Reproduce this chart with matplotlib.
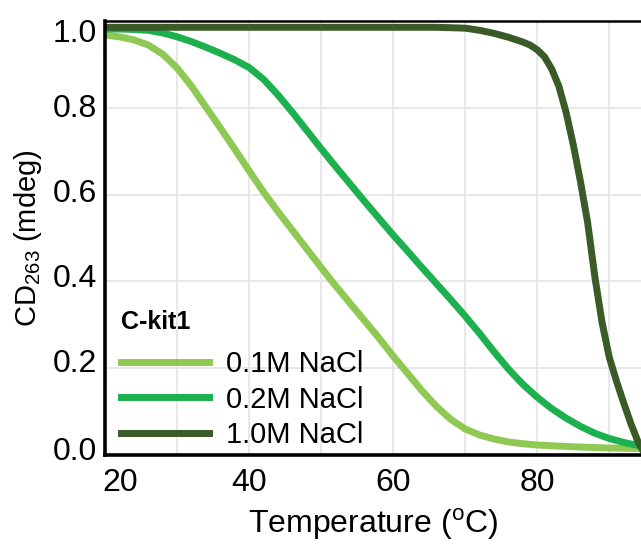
"""
CD melting curves of C-kit1 at three NaCl concentrations.
"""

import matplotlib
matplotlib.use("Agg")
from matplotlib import pyplot as plt
from matplotlib import transforms

plt.rcParams["font.family"] = ["Liberation Sans", "DejaVu Sans"]
plt.rcParams["mathtext.fontset"] = "custom"
plt.rcParams["mathtext.rm"] = "Liberation Sans"

# temperature (C) and normalised CD signal
t_01 = [20, 22, 24, 26, 28, 30, 32, 34, 36, 38, 40, 42, 44, 46, 48, 50, 52, 54,
        56, 58, 60, 62, 64, 66, 68, 70, 72, 74, 76, 78, 80, 85, 90, 94.5]
cd_01 = [0.968, 0.964, 0.957, 0.945, 0.924, 0.892, 0.85, 0.802, 0.754, 0.705,
         0.655, 0.606, 0.561, 0.518, 0.475, 0.432, 0.39, 0.35, 0.31, 0.27,
         0.228, 0.188, 0.148, 0.112, 0.082, 0.06, 0.046, 0.037, 0.03, 0.026,
         0.023, 0.019, 0.016, 0.015]

t_02 = [20, 22, 24, 26, 28, 30, 32, 34, 36, 38, 40, 42, 44, 46, 48, 50, 52, 54,
        56, 58, 60, 62, 64, 66, 68, 70, 72, 74, 76, 78, 80, 82, 84, 86, 88, 90,
        92, 94.5]
cd_02 = [0.982, 0.982, 0.981, 0.979, 0.973, 0.964, 0.953, 0.94, 0.926, 0.911,
         0.893, 0.866, 0.83, 0.79, 0.748, 0.706, 0.665, 0.625, 0.585, 0.546,
         0.507, 0.47, 0.432, 0.395, 0.358, 0.32, 0.28, 0.238, 0.198, 0.163,
         0.133, 0.107, 0.085, 0.066, 0.05, 0.038, 0.029, 0.02]

t_10 = [20, 40, 60, 66, 70, 72, 74, 76, 78, 79, 80, 81, 82, 83, 84, 85, 86, 87,
        88, 89, 90, 91, 92, 93, 94, 94.5]
cd_10 = [0.986, 0.986, 0.986, 0.986, 0.984, 0.979, 0.972, 0.963, 0.952, 0.945,
         0.934, 0.918, 0.89, 0.85, 0.79, 0.715, 0.63, 0.535, 0.41, 0.305,
         0.225, 0.17, 0.12, 0.072, 0.03, 0.015]

labels = ["0.1M NaCl", "0.2M NaCl", "1.0M NaCl"]
colors = ["#8fc954", "#1db04f", "#3a5a27"]

fig = plt.figure(figsize=(6.41, 5.44), dpi=100)
ax = fig.add_axes([0.164, 0.1636, 0.836, 0.7974])

for t, cd, lab, c in zip([t_01, t_02, t_10], [cd_01, cd_02, cd_10], labels, colors):
    ax.plot(t, cd, color=c, lw=5, label=lab)

ax.set_xlim(20, 94.4)
ax.set_ylim(0, 1.0)
ax.set_xticks([20, 40, 60, 80])
ax.set_xticks([30, 50, 70, 90], minor=True)
ax.set_yticks([0.0, 0.2, 0.4, 0.6, 0.8, 1.0])
ax.yaxis.set_major_formatter(matplotlib.ticker.FormatStrFormatter("%.1f"))
ax.grid(True, which="both", color="#e6e6e6", lw=1.3)
ax.set_axisbelow(True)
ax.tick_params(which="both", length=0, labelsize=23)
ax.tick_params(axis="x", pad=9)
ax.tick_params(axis="y", pad=6)

ax.spines["right"].set_visible(False)
ax.spines["left"].set_linewidth(2.6)
ax.spines["bottom"].set_linewidth(2.6)
ax.spines["top"].set_linewidth(1.8)

# nudge a few tick labels the way the original has them
def nudge(label, dx, dy):
    off = transforms.ScaledTranslation(dx / 100, dy / 100, fig.dpi_scale_trans)
    label.set_transform(label.get_transform() + off)

xl = ax.get_xticklabels()
xl[0].set_ha("left")
nudge(xl[0], -3, 0)
for lab, dy in zip(ax.get_yticklabels(), [7, 8, 6, 4, 2, -9]):
    nudge(lab, 0, dy)

ax.set_xlabel("Temperature ($^{\\rm o}$C)", fontsize=23, labelpad=6)
ax.set_ylabel("CD$_{263}$ (mdeg)", fontsize=21, labelpad=6)

leg = ax.legend(loc="upper left", bbox_to_anchor=(0.03, 0.335), frameon=False,
                fontsize=21, title="C-kit1", handlelength=3.0,
                handletextpad=0.6, labelspacing=0.25, borderpad=0,
                borderaxespad=0)
leg.get_title().set_fontweight("bold")
leg.get_title().set_fontsize(18)
leg._legend_box.align = "left"
leg._legend_box.sep = 12

fig.savefig("out.png", dpi=100)
